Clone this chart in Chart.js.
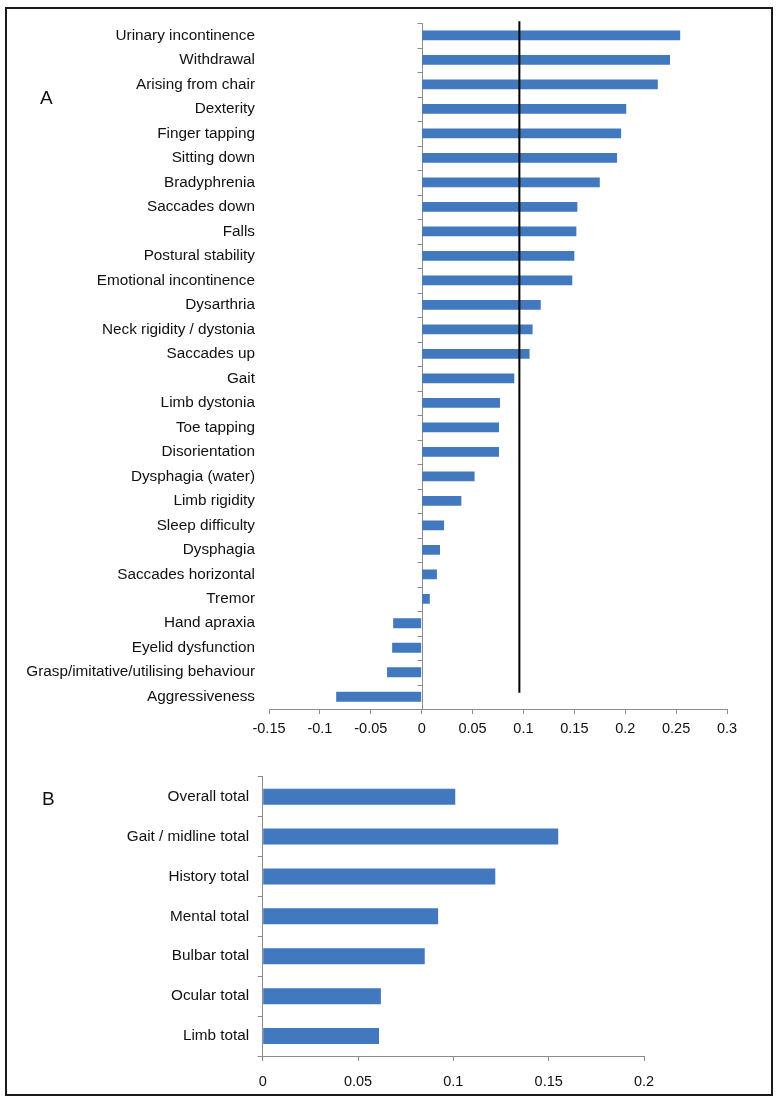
<!DOCTYPE html>
<html>
<head>
<meta charset="utf-8">
<script src="https://cdn.jsdelivr.net/npm/chart.js@4.4.1/dist/chart.umd.min.js"></script>
<style>
  html, body { margin: 0; padding: 0; background: #fff; }
  body { width: 778px; height: 1102px; position: relative; overflow: hidden; font-family: 'Liberation Sans', Arial, sans-serif; }
  #frame { position: absolute; left: 5px; top: 7px; width: 768px; height: 1089px; border: 2px solid #1a1a1a; box-sizing: border-box; }
  #wrapA { position: absolute; left: 0; top: 0; width: 778px; height: 745px; }
  #wrapB { position: absolute; left: 0; top: 745px; width: 778px; height: 357px; }
  .panel { position: absolute; font-size: 19px; color: #111; line-height: 1; }
</style>
</head>
<body>
<div id="frame"></div>
<div id="wrapA"><canvas id="chartA" width="778" height="745"></canvas></div>
<div id="wrapB"><canvas id="chartB" width="778" height="357"></canvas></div>
<div class="panel" style="left:40px; top:88px;">A</div>
<div class="panel" style="left:42px; top:789px;">B</div>
<script>
// ---------- Data (panel A) ----------
const categoriesA = [
  'Urinary incontinence', 'Withdrawal', 'Arising from chair', 'Dexterity', 'Finger tapping',
  'Sitting down', 'Bradyphrenia', 'Saccades down', 'Falls', 'Postural stability',
  'Emotional incontinence', 'Dysarthria', 'Neck rigidity / dystonia', 'Saccades up', 'Gait',
  'Limb dystonia', 'Toe tapping', 'Disorientation', 'Dysphagia (water)', 'Limb rigidity',
  'Sleep difficulty', 'Dysphagia', 'Saccades horizontal', 'Tremor', 'Hand apraxia',
  'Eyelid dysfunction', 'Grasp/imitative/utilising behaviour', 'Aggressiveness'
];
const valuesA = [
  0.254, 0.244, 0.232, 0.201, 0.196,
  0.192, 0.175, 0.153, 0.152, 0.150,
  0.148, 0.117, 0.109, 0.106, 0.091,
  0.077, 0.076, 0.076, 0.052, 0.039,
  0.022, 0.018, 0.015, 0.008, -0.028,
  -0.029, -0.034, -0.084
];
const tickLabelsA = ['-0.15', '-0.1', '-0.05', '0', '0.05', '0.1', '0.15', '0.2', '0.25', '0.3'];
const referenceLineA = 0.096;

// ---------- Data (panel B) ----------
const categoriesB = [
  'Overall total', 'Gait / midline total', 'History total', 'Mental total',
  'Bulbar total', 'Ocular total', 'Limb total'
];
const valuesB = [0.101, 0.155, 0.122, 0.092, 0.085, 0.062, 0.061];
const tickLabelsB = ['0', '0.05', '0.1', '0.15', '0.2'];

const BAR = '#4178be';
const AXIS = '#8c8c8c';
const TEXT = '#111111';
const FONT = "'Liberation Sans', Arial, sans-serif";

Chart.defaults.font.family = FONT;
Chart.defaults.color = TEXT;
Chart.defaults.animation = false;

// Zero-crossing category axis + reference line for panel A
const axisAtZero = {
  id: 'axisAtZero',
  beforeDatasetsDraw(chart) {
    const { ctx, chartArea, scales } = chart;
    const x0 = Math.round(scales.x.getPixelForValue(0)) + 0.5;
    const n = chart.data.labels.length;
    const step = (chartArea.bottom - chartArea.top) / n;
    ctx.save();
    ctx.strokeStyle = AXIS;
    ctx.lineWidth = 1;
    ctx.beginPath();
    ctx.moveTo(x0, chartArea.top);
    ctx.lineTo(x0, chartArea.bottom);
    for (let i = 0; i <= n; i++) {
      const yy = Math.round(chartArea.top + i * step) + 0.5;
      ctx.moveTo(x0 - 5, yy);
      ctx.lineTo(x0, yy);
    }
    ctx.stroke();
    ctx.restore();
  },
  afterDatasetsDraw(chart, args, opts) {
    if (opts.value === undefined) return;
    const { ctx, chartArea, scales } = chart;
    const x = scales.x.getPixelForValue(opts.value);
    const yTop = chartArea.top - 2;
    const yBot = scales.y.getPixelForValue(opts.toIndex);
    ctx.save();
    ctx.strokeStyle = '#000';
    ctx.lineWidth = 2;
    ctx.beginPath();
    ctx.moveTo(x, yTop);
    ctx.lineTo(x, yBot);
    ctx.stroke();
    ctx.restore();
  }
};

new Chart(document.getElementById('chartA'), {
  type: 'bar',
  data: {
    labels: categoriesA,
    datasets: [{
      data: valuesA,
      backgroundColor: BAR,
      borderWidth: 0,
      barPercentage: 0.4,
      categoryPercentage: 1.0
    }]
  },
  options: {
    indexAxis: 'y',
    responsive: false,
    maintainAspectRatio: false,
    layout: { padding: { top: 19, right: 51, bottom: 0, left: 0 } },
    plugins: {
      legend: { display: false },
      tooltip: { enabled: false },
      axisAtZero: { value: referenceLineA, toIndex: 26.84 }
    },
    scales: {
      x: {
        type: 'linear',
        min: -0.15,
        max: 0.3,
        afterBuildTicks(scale) {
          scale.ticks = tickLabelsA.map(t => ({ value: parseFloat(t) }));
        },
        ticks: {
          callback: (v, i) => tickLabelsA[i],
          font: { size: 14.5 },
          color: TEXT,
          padding: 6,
          maxRotation: 0,
          autoSkip: false
        },
        grid: { display: true, drawOnChartArea: false, drawTicks: true, tickLength: 5, color: AXIS },
        border: { display: true, color: AXIS },
        afterFit(scale) { scale.height = 36; }
      },
      y: {
        type: 'category',
        ticks: { font: { size: 15.3 }, color: TEXT, padding: 14, autoSkip: false },
        grid: { display: false, drawTicks: false },
        border: { display: false },
        afterFit(scale) { scale.width = 269; }
      }
    }
  },
  plugins: [axisAtZero]
});

new Chart(document.getElementById('chartB'), {
  type: 'bar',
  data: {
    labels: categoriesB,
    datasets: [{
      data: valuesB,
      backgroundColor: BAR,
      borderWidth: 0,
      barPercentage: 0.4,
      categoryPercentage: 1.0
    }]
  },
  options: {
    indexAxis: 'y',
    responsive: false,
    maintainAspectRatio: false,
    layout: { padding: { top: 31.7, right: 134, bottom: 0, left: 0 } },
    plugins: { legend: { display: false }, tooltip: { enabled: false } },
    scales: {
      x: {
        type: 'linear',
        min: 0,
        max: 0.2,
        afterBuildTicks(scale) {
          scale.ticks = tickLabelsB.map(t => ({ value: parseFloat(t) }));
        },
        ticks: {
          callback: (v, i) => tickLabelsB[i],
          font: { size: 14.5 },
          color: TEXT,
          padding: 12,
          maxRotation: 0,
          autoSkip: false
        },
        grid: { display: true, drawOnChartArea: false, drawTicks: true, tickLength: 5, color: AXIS },
        border: { display: true, color: AXIS },
        afterFit(scale) { scale.height = 46; }
      },
      y: {
        type: 'category',
        ticks: { font: { size: 15.3 }, color: TEXT, padding: 8.5, autoSkip: false },
        grid: { display: true, drawOnChartArea: false, drawTicks: true, tickLength: 5, color: AXIS, offset: true },
        border: { display: true, color: AXIS },
        afterFit(scale) { scale.width = 262.7; }
      }
    }
  }
});
</script>
</body>
</html>
